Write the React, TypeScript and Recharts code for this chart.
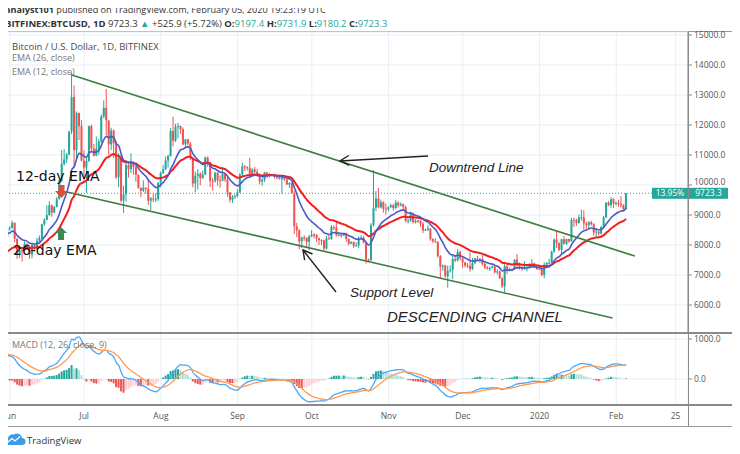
import React from "react";
import {
    ComposedChart,
    Bar,
    Line,
    XAxis,
    YAxis,
    CartesianGrid,
    ReferenceLine,
    Cell,
} from "recharts";

// daily BTCUSD (Bitfinex), first row is 2019-05-31 (day -1), last is 2020-02-05 (day 249)
const firstOpen = 8270;

const closes = [
    8560,
    // Jun
    8564, 8742, 8209, 7707, 7824, 7822, 8043, 7954, 7688, 8000, 7927, 8145, 8231, 8694, 8839,
    8995, 9323, 9081, 9274, 9530, 10144, 10701, 10855, 11011, 11790, 12930, 11162, 12407, 11959, 10817,
    // Jul
    10583, 10801, 11961, 11215, 10978, 11208, 11450, 12285, 12573, 12156, 11358, 11815, 11392, 10257, 10896,
    9477, 9693, 10666, 10530, 10767, 10599, 10343, 9900, 9811, 9911, 9871, 9477, 9553, 9520, 9529, 10085,
    // Aug
    10400, 10519, 10821, 10970, 11805, 11478, 11941, 11966, 11862, 11354, 11523, 11382, 10895, 10051, 10311,
    10374, 10231, 10345, 10916, 10763, 10138, 10131, 10407, 10160, 10138, 10370, 10186, 9754, 9510, 9598, 9630,
    // Sep
    9757, 10347, 10623, 10594, 10575, 10353, 10517, 10441, 10334, 10115, 10178, 10410, 10360, 10358, 10347,
    10276, 10241, 10198, 10266, 10181, 10019, 10070, 9729, 8620, 8486, 8118, 8251, 8245, 8104, 8293,
    // Oct
    8344, 8343, 8225, 8162, 8155, 7880, 8223, 8205, 8596, 8587, 8321, 8336, 8321, 8375, 8205,
    8048, 8103, 7973, 7988, 8222, 8243, 8078, 7514, 7493, 8660, 9244, 9552, 9256, 9427, 9205, 9199,
    // Nov
    9261, 9324, 9235, 9413, 9320, 9360, 9267, 8804, 8813, 9055, 8757, 8815, 8809, 8708, 8491,
    8503, 8550, 8202, 8125, 8097, 7625, 7280, 7320, 6960, 7140, 7170, 7530, 7480, 7770, 7560,
    // Dec
    7420, 7320, 7300, 7200, 7400, 7550, 7520, 7530, 7370, 7250, 7230, 7230, 7280, 7090, 7120,
    6890, 6630, 7290, 7160, 7200, 7190, 7510, 7330, 7270, 7210, 7220, 7260, 7330, 7390, 7260, 7200,
    // Jan
    7210, 7000, 7350, 7400, 7400, 7780, 8180, 8070, 7840, 8190, 8040, 8200, 8120, 8840, 8830,
    8730, 8920, 8920, 8720, 8660, 8760, 8700, 8420, 8450, 8380, 8600, 8920, 9410, 9330, 9530, 9380,
    // Feb
    9400, 9370, 9320, 9197.4, 9723.3,
];

const highs = [
    8600,
    8630, 8810, 8750, 8220, 7900, 7870, 8120, 8040, 7970, 8070, 8010, 8240, 8320, 8710, 8890,
    9320, 9460, 9350, 9300, 9600, 10180, 11160, 11200, 11070, 11760, 13750, 13320, 12450, 12400, 12160,
    11160, 10920, 11980, 12010, 11370, 11620, 11540, 12350, 12820, 13200, 12100, 11910, 11850, 11450, 11060,
    11010, 9970, 10740, 10720, 11050, 10790, 10660, 10350, 9930, 10160, 9920, 10190, 9600, 9710, 9720, 10090,
    10450, 10660, 10950, 11010, 11900, 12280, 12040, 12070, 11980, 11920, 11530, 11540, 11430, 10910, 10440,
    10530, 10430, 10480, 10950, 10950, 10770, 10240, 10450, 10420, 10320, 10600, 10380, 10290, 9760, 9660, 9680,
    9860, 10400, 10740, 10670, 10620, 10910, 10560, 10600, 10540, 10390, 10220, 10440, 10440, 10400, 10360,
    10380, 10280, 10270, 10280, 10280, 10190, 10090, 10080, 9810, 8740, 8530, 8270, 8320, 8250, 8330,
    8500, 8400, 8360, 8240, 8190, 8170, 8300, 8330, 8670, 8650, 8800, 8420, 8410, 8400, 8410,
    8210, 8120, 8110, 8090, 8290, 8330, 8300, 8080, 7550, 8730, 10500, 9800, 9900, 9520, 9460, 9380,
    9290, 9380, 9370, 9510, 9460, 9420, 9380, 9310, 8870, 9110, 9080, 8860, 8830, 8820, 8770,
    8540, 8660, 8560, 8220, 8230, 8130, 7670, 7350, 7340, 7310, 7320, 7640, 7650, 7870, 7820,
    7580, 7440, 7400, 7750, 7570, 7580, 7640, 7570, 7660, 7420, 7300, 7280, 7330, 7310, 7190,
    7150, 6940, 7360, 7390, 7240, 7220, 7530, 7700, 7420, 7290, 7460, 7340, 7390, 7530, 7410, 7340,
    7260, 7230, 7420, 7430, 7540, 7810, 8220, 8460, 8080, 8210, 8300, 8210, 8210, 8900, 8910,
    8880, 9010, 9180, 9160, 8770, 8800, 8810, 8730, 8550, 8470, 8630, 8970, 9430, 9470, 9590, 9560,
    9460, 9510, 9630, 9360, 9731.9,
];

const lows = [
    8100,
    8480, 8550, 8090, 7530, 7570, 7450, 7780, 7840, 7540, 7560, 7780, 7850, 8090, 8180, 8640,
    8830, 8980, 8940, 9060, 9250, 9520, 10100, 10650, 10730, 10990, 11700, 10600, 10900, 11500, 10790,
    10100, 9740, 10770, 11080, 10950, 10960, 11010, 11390, 12230, 11660, 11000, 11170, 10900, 10200, 9930,
    9420, 9070, 9440, 10250, 10400, 10340, 10110, 9880, 9590, 9770, 9710, 9330, 9160, 9430, 9420, 9470,
    9920, 10370, 10500, 10580, 10950, 11290, 11430, 11560, 11700, 11320, 11240, 11310, 10830, 9920, 9750,
    9850, 9990, 10210, 10340, 10610, 9930, 9810, 10080, 9980, 9910, 10130, 10100, 9610, 9420, 9400, 9530,
    9590, 9730, 10300, 10470, 10480, 10350, 10340, 10400, 10270, 10020, 9980, 10100, 10240, 10250, 10290,
    10210, 10180, 10180, 9710, 10140, 10000, 9900, 9720, 8370, 8260, 7850, 7900, 8140, 7910, 7830,
    8260, 8220, 8100, 8000, 8000, 7820, 7850, 8180, 8170, 8500, 8280, 8290, 8250, 8300, 8110,
    7980, 8030, 7900, 7940, 7900, 8200, 8060, 7380, 7440, 7480, 8620, 9130, 9220, 9220, 9080, 9010,
    9130, 9240, 9140, 9190, 9250, 9290, 9140, 8750, 8720, 8780, 8720, 8720, 8740, 8600, 8400,
    8470, 8470, 8140, 8070, 8070, 7580, 6870, 7140, 6910, 6580, 7080, 6860, 7430, 7460, 7490,
    7230, 7250, 7240, 7110, 7170, 7360, 7490, 7410, 7320, 7200, 7180, 7130, 7230, 7050, 7020,
    6880, 6560, 6430, 7030, 7120, 7120, 7170, 7280, 7180, 7140, 7180, 7120, 7260, 7300, 7230, 7170,
    7180, 6960, 6890, 7290, 7380, 7390, 7730, 7900, 7790, 7720, 8020, 8000, 8070, 8110, 8600,
    8640, 8710, 8810, 8520, 8540, 8560, 8640, 8300, 8250, 8320, 8350, 8590, 8900, 9290, 9240, 9230,
    9320, 9270, 9250, 9120, 9180.2,
];

// indicator values at the left edge
const emaSeed = { fast: 8350, slow: 7720, signal: 620 };

const monthTicks = [0, 30, 61, 92, 122, 153, 183, 214, 245, 269];
const monthLabels = ["Jun", "Jul", "Aug", "Sep", "Oct", "Nov", "Dec", "2020", "Feb", "25"];
const priceTicks = [6000, 7000, 8000, 9000, 10000, 11000, 12000, 13000, 14000, 15000];
const macdTicks = [0, 1000];

// channel drawn on the chart (day index, price)
const upperChannel = [{ x: 25, y: 13670 }, { x: 252.5, y: 7630 }];
const lowerChannel = [{ x: 23, y: 9770 }, { x: 243.5, y: 5570 }];

const UP = "#26a69a";
const DOWN = "#ef5350";
const TEAL = "#26a69a";
const FONT = "'Open Sans', sans-serif";

function buildRows() {
    let fast = emaSeed.fast;
    let slow = emaSeed.slow;
    let signal = emaSeed.signal;
    let prevHist = 0;
    return closes.map((close, i) => {
        const open = i === 0 ? firstOpen : closes[i - 1];
        fast += ((close - fast) * 2) / 13;
        slow += ((close - slow) * 2) / 27;
        const macd = fast - slow;
        signal += ((macd - signal) * 2) / 10;
        const hist = macd - signal;
        let histColor;
        if (hist >= 0) histColor = hist >= prevHist ? "#26a69a" : "#b2dfdb";
        else histColor = hist <= prevHist ? "#ef5350" : "#ffcdd2";
        prevHist = hist;
        return {
            day: i - 1,
            open,
            high: highs[i],
            low: lows[i],
            close,
            range: [lows[i], highs[i]],
            ema12: fast,
            ema26: slow,
            macd,
            signal,
            hist,
            histColor,
        };
    });
}

const rows = buildRows();
const last = rows[rows.length - 1];

function Candle(props: any) {
    const { x, y, width, height, payload } = props;
    if (!payload) return null;
    const { open, close, high, low } = payload;
    const color = close >= open ? UP : DOWN;
    const ratio = high === low ? 0 : height / (high - low);
    const cx = x + width / 2;
    const top = y + (high - Math.max(open, close)) * ratio;
    const bottom = y + (high - Math.min(open, close)) * ratio;
    return (
        <g>
            <line x1={cx} x2={cx} y1={y} y2={y + height} stroke={color} strokeWidth={1} />
            <rect x={cx - 1} y={top} width={2} height={Math.max(1, bottom - top)} fill={color} />
        </g>
    );
}

function PriceTag(props: any) {
    const vb = props.viewBox;
    if (!vb) return null;
    const right = vb.x + vb.width;
    const y = vb.y;
    return (
        <g fontFamily={FONT} fontSize={8.5}>
            <rect x={right - 36} y={y - 5.5} width={36} height={11} fill={TEAL} />
            <text x={right - 18} y={y} dy="0.35em" textAnchor="middle" fill="#fff">13.95%</text>
            <rect x={right + 1} y={y - 5.5} width={39} height={11} fill={TEAL} />
            <text x={right + 20.5} y={y} dy="0.35em" textAnchor="middle" fill="#fff">
                {last.close.toFixed(1)}
            </text>
        </g>
    );
}

// price axis label; the one next to the last-price tag sits a bit higher, as in the picture
function PriceTick(props: any) {
    const { x, y, payload } = props;
    const nudge = Math.abs(payload.value - last.close) < 600 ? -3 : 0;
    return (
        <text x={x} y={y + nudge} dy="0.35em" fontSize={8.5} fill="#555" fontFamily={FONT}>
            {Number(payload.value).toFixed(1)}
        </text>
    );
}

function Arrow({ from, to }: { from: [number, number]; to: [number, number] }) {
    const dx = to[0] - from[0];
    const dy = to[1] - from[1];
    const len = Math.hypot(dx, dy);
    const ux = dx / len;
    const uy = dy / len;
    const a = 9;
    const b = 5;
    const p1 = `${to[0] - ux * a - uy * b},${to[1] - uy * a + ux * b}`;
    const p2 = `${to[0] - ux * a + uy * b},${to[1] - uy * a - ux * b}`;
    return (
        <g stroke="#222" strokeWidth={1.4} fill="none">
            <line x1={from[0]} y1={from[1]} x2={to[0]} y2={to[1]} />
            <polyline points={`${p1} ${to[0]},${to[1]} ${p2}`} />
        </g>
    );
}

const axisTick = { fontSize: 8.5, fill: "#555", fontFamily: FONT };

export default function App() {
    return (
        <div
            style={{
                position: "relative",
                width: 740,
                height: 454,
                margin: -8,
                background: "#fff",
                overflow: "hidden",
                fontFamily: FONT,
                color: "#333",
            }}
        >
            {/* frame */}
            <div style={{ position: "absolute", left: 4, top: 31, width: 730, height: 394, border: "1px solid #999" }} />

            {/* price panel (svg starts 10px above the plot so the top label is not clipped) */}
            <div style={{ position: "absolute", left: 5, top: 22 }}>
                <ComposedChart width={729} height={311} data={rows} margin={{ top: 10, right: 0, bottom: 0, left: 0 }}>
                    <CartesianGrid stroke="#e9eff5" />
                    <XAxis type="number" dataKey="day" domain={[-2, 274]} ticks={monthTicks} hide allowDataOverflow />
                    <YAxis
                        orientation="right"
                        width={46}
                        domain={[5067, 15100]}
                        ticks={priceTicks}
                        interval={0}
                        allowDataOverflow
                        tick={<PriceTick />}
                        tickSize={4}
                        tickLine={{ stroke: "#888" }}
                        axisLine={{ stroke: "#888" }}
                    />
                    <Bar dataKey="range" barSize={2} shape={<Candle />} isAnimationActive={false} />
                    <Line type="monotone" dataKey="ema26" stroke="#f41e1e" strokeWidth={2} dot={false} isAnimationActive={false} />
                    <Line type="monotone" dataKey="ema12" stroke="#4a5bc6" strokeWidth={1.6} dot={false} isAnimationActive={false} />
                    <ReferenceLine segment={upperChannel} stroke="#3e7d3e" strokeWidth={1.6} />
                    <ReferenceLine segment={lowerChannel} stroke="#3e7d3e" strokeWidth={1.6} />
                    <ReferenceLine y={last.close} stroke={TEAL} strokeDasharray="1 2" label={<PriceTag />} />
                </ComposedChart>
            </div>

            {/* MACD panel + time axis (svg starts at the page edge so "Jun" is not clipped) */}
            <div style={{ position: "absolute", left: 0, top: 333 }}>
                <ComposedChart width={734} height={93} data={rows} margin={{ top: 0, right: 0, bottom: 0, left: 5 }}>
                    <CartesianGrid stroke="#e9eff5" />
                    <XAxis
                        type="number"
                        dataKey="day"
                        domain={[-2, 274]}
                        ticks={monthTicks}
                        interval={0}
                        allowDataOverflow
                        height={21}
                        tickFormatter={(v: number) => monthLabels[monthTicks.indexOf(v)]}
                        tick={axisTick}
                        tickLine={false}
                        axisLine={false}
                    />
                    <YAxis
                        orientation="right"
                        width={46}
                        domain={[-650, 1150]}
                        ticks={macdTicks}
                        interval={0}
                        allowDataOverflow
                        tickFormatter={(v: number) => v.toFixed(1)}
                        tick={axisTick}
                        tickSize={4}
                        tickLine={{ stroke: "#888" }}
                        axisLine={false}
                    />
                    <Bar dataKey="hist" barSize={2} isAnimationActive={false}>
                        {rows.map((r, i) => (
                            <Cell key={i} fill={r.histColor} />
                        ))}
                    </Bar>
                    <Line type="monotone" dataKey="macd" stroke="#4aa8f5" strokeWidth={1.3} dot={false} isAnimationActive={false} />
                    <Line type="monotone" dataKey="signal" stroke="#ff9a55" strokeWidth={1.3} dot={false} isAnimationActive={false} />
                </ComposedChart>
            </div>

            {/* panel separators */}
            <div style={{ position: "absolute", left: 5, top: 332, width: 729, height: 2, background: "#8a8a8a" }} />
            <div style={{ position: "absolute", left: 5, top: 404, width: 729, height: 1.5, background: "#8a8a8a" }} />
            <div style={{ position: "absolute", left: 688, top: 32, width: 1.2, height: 394, background: "#8a8a8a" }} />

            {/* header, legends and drawings */}
            <svg width={740} height={454} style={{ position: "absolute", left: 0, top: 0, pointerEvents: "none" }}>
                <g fontFamily={FONT} fill="#333">
                    <text x={5} y={12.5} fontSize={9.1}>
                        <tspan fontWeight="bold">analyst101</tspan>
                        <tspan> published on TradingView.com, February 05, 2020 19:23:19 UTC</tspan>
                    </text>
                    <text x={5} y={26.5} fontSize={9.5}>
                        <tspan fontWeight="bold">BITFINEX:BTCUSD, 1D</tspan>
                        <tspan> 9723.3 </tspan>
                        <tspan fill={TEAL}>▲</tspan>
                        <tspan> +525.9 (+5.72%) </tspan>
                        <tspan fontWeight="bold">O:</tspan>
                        <tspan fill={TEAL}>9197.4 </tspan>
                        <tspan fontWeight="bold">H:</tspan>
                        <tspan fill={TEAL}>9731.9 </tspan>
                        <tspan fontWeight="bold">L:</tspan>
                        <tspan fill={TEAL}>9180.2 </tspan>
                        <tspan fontWeight="bold">C:</tspan>
                        <tspan fill={TEAL}>9723.3</tspan>
                    </text>
                </g>
                <g fontFamily={FONT}>
                    <text x={12} y={49.5} fontSize={9.5} fill="#4a4a4a">Bitcoin / U.S. Dollar, 1D, BITFINEX</text>
                    <text x={12} y={61} fontSize={9} fill="#777">EMA (26, close)</text>
                    <text x={12} y={75} fontSize={9} fill="#777">EMA (12, close)</text>
                    <text x={12} y={348} fontSize={9} fill="#777">MACD (12, 26, close, 9)</text>
                </g>
                <text x={16} y={181} fontFamily="'DejaVu Sans', sans-serif" fontSize={14} fill="#111">12-day EMA</text>
                <text x={13} y={255} fontFamily="'DejaVu Sans', sans-serif" fontSize={14} fill="#111">26-day EMA</text>
                <polygon
                    points="58.5,185 64.5,185 64.5,191 68,191 61.5,198 55,191 58.5,191"
                    fill="#d9503f"
                />
                <polygon points="61,227 67,233 64,233 64,240 58,240 58,233 55,233" fill="#3a8a55" />
                <Arrow from={[428, 156]} to={[340, 161]} />
                <Arrow from={[336, 292]} to={[303, 250]} />
                <g fontFamily="'Liberation Sans', Arial, sans-serif" fontStyle="italic" fill="#222">
                    <text x={429} y={172} fontSize={13.5}>Downtrend Line</text>
                    <text x={350} y={297} fontSize={13.5}>Support Level</text>
                    <text x={387} y={322} fontSize={15}>DESCENDING CHANNEL</text>
                </g>
                {/* TradingView logo */}
                <path
                    d="M7,445 H22 A3.5,3.5 0 0 0 22,438 A5,5 0 0 0 14,434.5 A5,5 0 0 0 8,438 A3.5,3.5 0 0 0 7,445 Z"
                    fill="#3c9be8"
                />
                <polyline points="8,442 12,438.5 15,441 20,436.5" stroke="#fff" strokeWidth={1.3} fill="none" />
                <text x={27} y={444} fontFamily={FONT} fontSize={9.5} fill="#333">TradingView</text>
            </svg>
        </div>
    );
}
